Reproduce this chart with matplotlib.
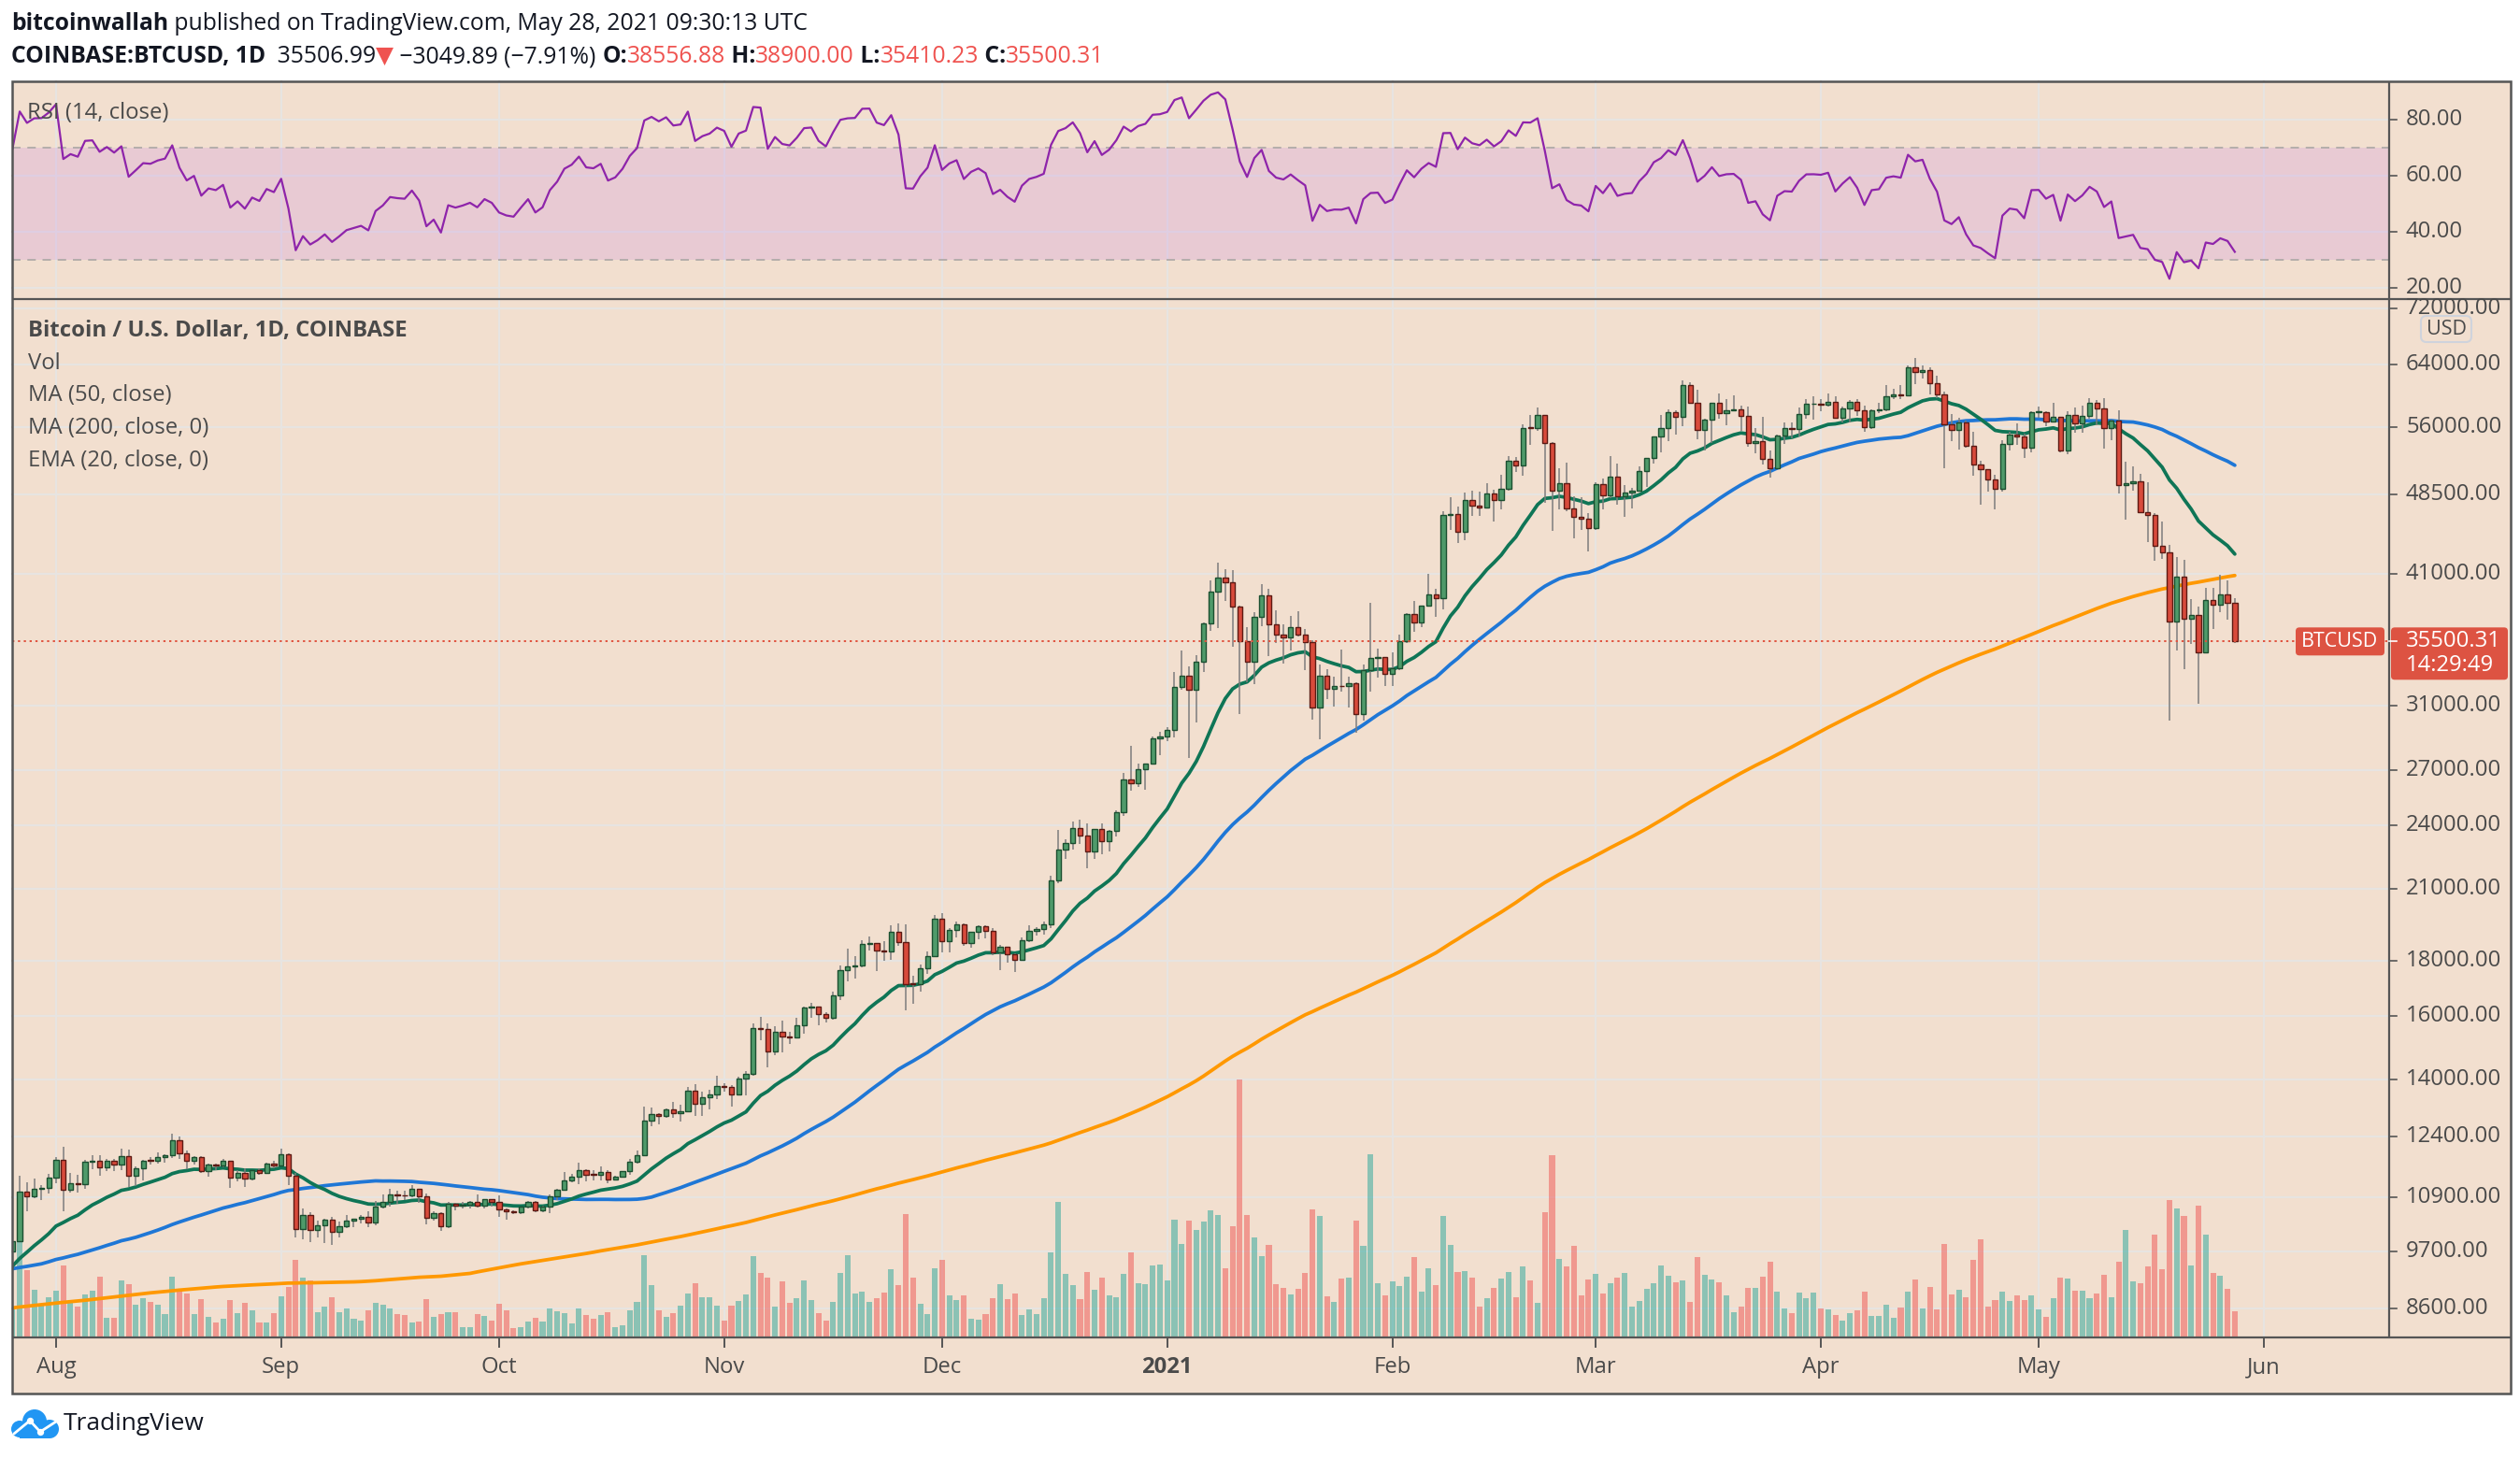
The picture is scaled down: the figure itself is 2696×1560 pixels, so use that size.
import numpy as np
import pandas as pd
import matplotlib
matplotlib.use("Agg")
import matplotlib.pyplot as plt
from matplotlib.patches import Rectangle, FancyBboxPatch, Circle

# ------------------------------------------------------------------ data
first_date = "2020-07-26"
first_open = 9705.0

# daily closes before the visible window (Jan 1 - Jul 25 2020), used only as history for MA/EMA/RSI
pre_close = [
    7200, 6970, 7340, 7350, 7360, 7760, 8160, 8040, 7820, 8190, 8020, 8180, 8110, 8810, 8810, 8710,
    8900, 8900, 8700, 8630, 8730, 8660, 8390, 8430, 8340, 8600, 8900, 9360, 9300, 9500, 9350,
    9380, 9340, 9290, 9180, 9620, 9760, 9810, 9900, 10160, 9860, 10270, 10350, 10240, 10370, 9900,
    9930, 9700, 10180, 9600, 9600, 9690, 9670, 9970, 9660, 9310, 8790, 8790, 8680, 8540,
    8530, 8920, 8760, 8760, 9070, 9150, 8900, 8040, 7940, 7890, 7940, 4860, 5620, 5170, 5360, 5020,
    5360, 5410, 6180, 6200, 6190, 5810, 6490, 6760, 6690, 6750, 6370, 6250, 5880, 6400, 6420,
    6650, 6810, 6740, 6870, 6780, 7340, 7200, 7370, 7300, 6870, 6890, 6910, 6860, 6880, 6640,
    7120, 7100, 7260, 7130, 6850, 6860, 7140, 7500, 7540, 7570, 7700, 7790, 7770, 8790, 8630,
    8830, 8980, 8910, 8890, 9030, 9150, 9990, 9820, 9540, 8730, 8570, 8820, 9320, 9790, 9310, 9380,
    9670, 9730, 9780, 9510, 9060, 9170, 9180, 8720, 8900, 8840, 9200, 9570, 9430, 9700, 9450,
    10200, 9520, 9670, 9790, 9620, 9670, 9750, 9780, 9780, 9890, 9270, 9470, 9470, 9340, 9430,
    9530, 9450, 9380, 9300, 9360, 9290, 9690, 9630, 9290, 9260, 9170, 9010, 9120, 9190, 9140,
    9230, 9090, 9060, 9130, 9070, 9340, 9250, 9430, 9230, 9280, 9230, 9300, 9240, 9250, 9190,
    9130, 9150, 9170, 9210, 9160, 9390, 9530, 9600, 9540, 9700,
]

close = [
    9930, 11030, 10910, 11100, 11110, 11350,
    11800, 11070, 11230, 11190, 11750, 11770, 11600, 11760, 11680, 11880, 11400, 11580, 11780, 11770, 11860, 11910,
    12300, 11970, 11760, 11870, 11520, 11680, 11650, 11760, 11350, 11470, 11330, 11540, 11480, 11710, 11660,
    11930, 11400, 10180, 10480, 10170, 10260, 10380, 10130, 10240, 10360, 10400, 10440, 10330, 10680, 10790,
    10960, 10940, 10930, 11080, 10920, 10420, 10530, 10240, 10740, 10690, 10730, 10780, 10700, 10840, 10780,
    10620, 10570, 10550, 10670, 10790, 10600, 10670, 10920, 11060, 11300, 11380, 11550, 11430, 11420, 11500,
    11320, 11370, 11510, 11750, 11920, 12820, 12990, 12940, 13120, 13030, 13070, 13650, 13280, 13460, 13560, 13800,
    13760, 13560, 14030, 14150, 15600, 15590, 14840, 15480, 15330, 15300, 15700, 16290, 16330, 16070, 15960,
    16730, 17660, 17790, 17820, 18680, 18700, 18420, 18370, 19160, 18740, 17150, 17140, 17720, 18180, 19700,
    18770, 19220, 19450, 18700, 19150, 19370, 19190, 18330, 18550, 18250, 18040, 18810, 19170, 19280, 19440,
    21380, 22800, 23140, 23870, 23480, 22740, 23830, 23240, 23730, 24710, 26490, 26280, 27040, 27370, 28890, 28990,
    29400, 32200, 33000, 32030, 34030, 36860, 39470, 40670, 40240, 38240, 35540, 34010, 37390, 39150, 36830,
    36030, 35820, 36630, 36020, 35470, 30830, 33010, 32080, 32280, 32260, 32500, 30420, 33410, 34270, 34320, 33110,
    33520, 35510, 37660, 36940, 38290, 39250, 38900, 46440, 46510, 44840, 47990, 47380, 47180, 48580,
    47930, 49150, 52120, 51600, 55920, 55900, 57490, 54090, 48890, 49700, 47060, 46280, 46110, 45140,
    49590, 48440, 50350, 48370, 48750, 48880, 50970, 52390, 54880, 55850, 57770, 57230, 61190, 58970, 55640,
    56930, 58920, 57650, 58030, 58100, 57350, 54100, 54340, 52300, 51300, 55040, 55840, 55780, 57610, 58780, 58800,
    58740, 59060, 57070, 58200, 59130, 58020, 56000, 57990, 58120, 59780, 59990, 59860, 63580, 62960, 63230,
    61450, 60060, 56270, 55700, 56500, 53800, 51700, 51190, 50110, 49080, 54030, 55050, 54880, 53580, 57800,
    57830, 56620, 57200, 53250, 57480, 56390, 57380, 58930, 58250, 55860, 56740, 49450, 49700, 49930,
    46760, 46450, 43540, 42910, 37000, 40780, 37280, 37530, 34700, 38780, 38350, 39270, 38556.88, 35500.31,
]

high = [
    10000, 11400, 11240, 11340, 11170, 11450,
    11860, 12120, 11480, 11420, 11800, 11900, 11920, 11810, 11810, 12070, 12050, 11630, 11800, 11870, 11980, 11930,
    12470, 12400, 12020, 11890, 11880, 11690, 11710, 11810, 11770, 11530, 11590, 11550, 11580, 11720, 11780,
    12090, 11950, 11470, 10630, 10560, 10360, 10410, 10440, 10350, 10480, 10400, 10480, 10580, 10800, 10950,
    11100, 11040, 11040, 11180, 11060, 10990, 10580, 10550, 10780, 10770, 10780, 10800, 10950, 10860, 10840,
    10940, 10640, 10600, 10680, 10800, 10800, 10690, 10960, 11100, 11490, 11440, 11730, 11560, 11550, 11630,
    11540, 11410, 11490, 11820, 12020, 13220, 13190, 13030, 13160, 13350, 13250, 13780, 13850, 13640, 13680, 14100,
    13880, 13830, 14070, 14250, 15770, 15980, 15770, 15670, 15850, 15480, 15950, 16350, 16480, 16330, 16150,
    16880, 17840, 18480, 18180, 18810, 18950, 18700, 18770, 19420, 19490, 19440, 17460, 17850, 18350, 19850,
    19920, 19300, 19560, 19500, 19160, 19420, 19420, 19290, 18630, 18560, 18280, 18940, 19410, 19350, 19560,
    21560, 23800, 23290, 24200, 24300, 24110, 23850, 24100, 23800, 24790, 26870, 28420, 27400, 27390, 28990, 29320,
    29600, 33300, 34790, 33650, 34500, 36950, 40380, 41950, 41400, 41350, 38300, 36630, 37800, 40100, 39700,
    37950, 36850, 37450, 37850, 36420, 35600, 33830, 33500, 32950, 34880, 32950, 32560, 33780, 38530, 34940, 34350,
    34720, 35990, 37700, 38700, 38330, 40950, 39700, 46800, 48200, 47310, 48680, 48960, 48840, 49700,
    49000, 50600, 52600, 52500, 56330, 57500, 58350, 57500, 54200, 51300, 51950, 48360, 48200, 46600,
    49790, 50200, 52650, 51780, 49450, 49200, 51460, 52420, 54900, 57400, 58100, 58000, 61800, 61600, 60600,
    56950, 58980, 60080, 59450, 59900, 58600, 58450, 55850, 57200, 53230, 55070, 56600, 56570, 58400, 59370, 59800,
    59480, 60100, 59780, 58500, 59280, 59480, 58650, 58150, 58900, 61200, 60700, 61200, 63800, 64900, 63800,
    63600, 62500, 60400, 57600, 57100, 56800, 55450, 52150, 51200, 50560, 54400, 55400, 56450, 55200, 57950,
    58500, 57950, 58980, 57200, 57950, 58380, 58650, 59500, 59300, 59600, 56900, 58000, 52000, 51500,
    50700, 49800, 46600, 45850, 43550, 42500, 42200, 38850, 38230, 39800, 39800, 40900, 40400, 38900,
]

low = [
    9650, 9900, 10570, 10870, 10830, 10980,
    11230, 10580, 11000, 11000, 11100, 11560, 11400, 11520, 11510, 11550, 11140, 11160, 11280, 11680, 11690, 11720,
    11830, 11820, 11570, 11670, 11480, 11380, 11530, 11600, 11120, 11260, 11140, 11280, 11430, 11450, 11590,
    11640, 11170, 10000, 9960, 9900, 10000, 9880, 9850, 10000, 10200, 10220, 10300, 10220, 10270, 10630,
    10680, 10750, 10820, 10900, 10770, 10290, 10360, 10140, 10200, 10600, 10640, 10640, 10650, 10640, 10680,
    10440, 10380, 10520, 10520, 10630, 10560, 10550, 10530, 10830, 11050, 11250, 11200, 11270, 11280, 11280,
    11220, 11290, 11360, 11420, 11690, 11890, 12680, 12720, 12900, 12890, 12800, 13050, 12940, 12960, 13120, 13420,
    13630, 13200, 13530, 13540, 14100, 15200, 14360, 14720, 14830, 15090, 15270, 15430, 15960, 15700, 15800,
    15880, 16560, 17220, 17350, 17750, 18420, 17620, 18000, 18030, 18600, 16200, 16440, 16880, 17520, 18180,
    18320, 18340, 18930, 18580, 18500, 18860, 18900, 18220, 17650, 17930, 17580, 17990, 18720, 19000, 19050,
    19300, 21250, 22350, 22800, 23080, 21900, 22360, 22600, 22700, 23440, 24520, 25850, 26080, 25900, 27330, 27850,
    28700, 28950, 32050, 27700, 29900, 33300, 36300, 36550, 38700, 35110, 30400, 32530, 32400, 36700, 34400,
    35370, 33850, 34800, 35900, 33400, 30070, 28850, 31400, 30900, 31920, 30840, 29240, 30000, 31920, 32850, 32300,
    32300, 33420, 35360, 36200, 36600, 38220, 37380, 38030, 45000, 43720, 44000, 46350, 46350, 47080,
    45800, 47000, 48950, 50900, 50500, 53860, 55490, 47640, 44900, 47000, 46800, 44190, 45000, 43020,
    45000, 47050, 48180, 47500, 46300, 47070, 48900, 49320, 51830, 53040, 54310, 55100, 56100, 58900, 54600,
    53300, 54150, 57050, 56250, 57900, 55500, 53700, 53000, 51700, 50300, 51250, 53970, 54700, 54900, 57020, 56870,
    57930, 58500, 56950, 56600, 56500, 57350, 55470, 55800, 57700, 57900, 59400, 59400, 59800, 61300, 62050,
    60000, 59600, 51300, 54300, 53400, 53600, 50500, 47500, 48800, 47000, 48850, 53300, 53900, 52400, 53050,
    57060, 56080, 56500, 53100, 52900, 55270, 55280, 56950, 56250, 53500, 54450, 48600, 46000, 48900,
    46600, 43850, 42100, 42350, 30000, 34800, 33500, 35300, 31100, 34600, 36450, 37800, 37200, 35410,
]

volume = [  # thousand BTC
    9.5, 33.9, 21.7, 15.3, 10.2, 12.9,
    15.0, 23.1, 11.4, 9.9, 13.8, 15.0, 19.5, 6.4, 6.4, 18.3, 17.1, 10.5, 12.6, 11.4, 10.5, 7.5,
    19.5, 15.3, 14.1, 7.5, 12.3, 6.6, 4.8, 6.0, 12.0, 7.8, 11.1, 8.7, 4.8, 4.8, 7.8,
    13.2, 16.2, 24.9, 19.2, 18.3, 8.1, 9.9, 12.9, 8.1, 9.3, 6.0, 5.4, 8.7, 11.1, 10.5,
    9.3, 7.5, 7.2, 4.8, 5.1, 12.3, 6.6, 7.5, 8.1, 8.1, 3.3, 3.3, 7.5, 6.9, 5.4,
    10.8, 8.7, 3.0, 3.3, 5.1, 6.3, 5.1, 9.3, 8.4, 7.8, 4.5, 9.3, 7.2, 6.0, 7.2,
    8.1, 3.3, 3.9, 8.7, 11.4, 26.4, 16.8, 8.7, 6.6, 7.8, 10.2, 14.1, 17.4, 12.9, 12.9, 10.2,
    5.4, 10.2, 11.7, 13.8, 26.1, 20.7, 19.2, 9.9, 18.0, 11.1, 12.6, 18.3, 12.0, 7.8, 5.4,
    11.4, 20.7, 26.4, 14.1, 14.7, 11.4, 12.6, 14.4, 21.9, 16.8, 39.6, 19.2, 10.8, 7.5, 22.2,
    24.9, 13.5, 12.0, 13.5, 6.0, 5.7, 7.5, 12.6, 17.1, 12.3, 14.1, 7.2, 9.0, 7.5, 12.6,
    27.3, 43.5, 20.4, 16.8, 12.3, 21.0, 15.3, 19.2, 13.5, 12.9, 20.4, 27.3, 17.4, 17.1, 23.1, 23.4,
    18.3, 37.8, 30.0, 37.5, 34.5, 37.2, 40.8, 39.3, 22.2, 35.7, 82.8, 39.3, 32.1, 26.1, 29.7,
    17.1, 15.9, 13.8, 15.6, 20.7, 41.1, 39.0, 13.2, 11.4, 18.9, 19.2, 37.5, 29.4, 58.8, 17.4, 13.5,
    18.0, 16.5, 19.5, 25.8, 14.7, 22.2, 16.8, 39.0, 29.7, 21.0, 21.3, 19.2, 9.9, 12.6,
    15.9, 18.9, 21.0, 12.9, 22.8, 18.3, 11.1, 40.2, 58.5, 25.2, 22.8, 29.4, 13.5, 18.6,
    20.4, 14.1, 17.4, 19.2, 20.7, 9.9, 11.7, 15.6, 17.4, 23.1, 19.8, 17.7, 18.3, 11.4, 25.8,
    20.1, 18.6, 17.7, 13.5, 8.1, 9.9, 15.9, 15.9, 19.5, 24.3, 14.7, 9.3, 7.8, 14.4, 12.6, 14.4,
    9.3, 9.0, 7.2, 5.4, 7.8, 8.7, 14.7, 6.9, 6.9, 10.5, 6.3, 9.6, 14.7, 18.6, 9.3,
    16.2, 9.0, 30.0, 13.8, 15.3, 12.9, 24.9, 31.5, 9.9, 12.0, 14.7, 11.7, 13.5, 12.0, 13.5,
    9.0, 6.6, 12.6, 19.2, 18.9, 15.0, 15.0, 12.6, 14.1, 20.1, 12.9, 24.3, 34.5, 18.0,
    17.4, 22.8, 33.0, 21.9, 44.1, 41.4, 39.0, 23.1, 42.3, 33.0, 20.7, 19.8, 15.6, 8.4,
]

price_ticks = [72000, 64000, 56000, 48500, 41000, 31000, 27000, 24000, 21000,
               18000, 16000, 14000, 12400, 10900, 9700, 8600]
rsi_ticks = [80, 60, 40, 20]
legend_lines = ["Bitcoin / U.S. Dollar, 1D, COINBASE", "Vol", "MA (50, close)",
                "MA (200, close, 0)", "EMA (20, close, 0)"]
last_price = 35500.31
countdown = "14:29:49"

# ------------------------------------------------------------------ styling / layout
W, H, DPI = 2696, 1560, 100
L, R, TOP, SEP, BOT, FR, FB = 13, 2556, 87, 320, 1431, 2686, 1491
XMIN, XMAX = -0.04, 327.25
PTOP, PBOT = 73500.0, 8086.0
RTOP, RBOT = 93.67, 16.0
VTOP = 333.0

BG = "#f2dfcf"
GRID = "#e7e4e1"
FRAME = "#555555"
TXT = "#4a4a4a"
G_BODY, G_EDGE = "#4f9a6a", "#1b4f30"
R_BODY, R_EDGE = "#d84a3b", "#5c1a13"
WICK = "#7d7d7d"
FS = 17.2

plt.rcParams["font.family"] = ["Open Sans", "DejaVu Sans"]

n = min(len(close), len(high), len(low), len(volume))
c = np.array(close[:n], float)
o = np.concatenate([[first_open], c[:-1]])
hi = np.maximum(np.array(high[:n], float), np.maximum(o, c))
lo = np.minimum(np.array(low[:n], float), np.minimum(o, c))
vol = np.array(volume[:n], float)
x = np.arange(n)
up = c >= o

allc = pd.Series(list(map(float, pre_close)) + list(c))
npre = len(pre_close)
ema20 = allc.ewm(span=20, adjust=False).mean().values
ma50 = allc.rolling(50).mean().values
ma200 = allc.rolling(200).mean().values
d = allc.diff()
gain = d.clip(lower=0).ewm(alpha=1 / 14, adjust=False).mean()
loss = (-d.clip(upper=0)).ewm(alpha=1 / 14, adjust=False).mean()
rsi = (100 - 100 / (1 + gain / loss)).values
xi = np.arange(len(allc)) - npre
sel = xi >= -3


def px_price(p):
    return SEP + (np.log(PTOP) - np.log(p)) / (np.log(PTOP) - np.log(PBOT)) * (BOT - SEP)


def px_rsi(r):
    return TOP + (RTOP - r) / (RTOP - RBOT) * (SEP - TOP)


def px_x(i):
    return L + (i - XMIN) / (XMAX - XMIN) * (R - L)


def rect_axes(x0, y0, x1, y1):
    return [x0 / W, 1 - y1 / H, (x1 - x0) / W, (y1 - y0) / H]


fig = plt.figure(figsize=(W / DPI, H / DPI), dpi=DPI)
fig.patch.set_facecolor("white")

bg = fig.add_axes([0, 0, 1, 1])
bg.set_xlim(0, W); bg.set_ylim(H, 0); bg.axis("off"); bg.set_zorder(0)
bg.add_patch(Rectangle((L, TOP), FR - L, FB - TOP, facecolor=BG, edgecolor="none"))

# grid
dates = pd.date_range(first_date, periods=int(XMAX) + 1)
month_idx = [i for i, dt in enumerate(dates) if dt.day == 1]
for i in month_idx:
    bg.plot([px_x(i)] * 2, [TOP, BOT], color=GRID, lw=1.6, zorder=1)
for p in price_ticks:
    bg.plot([L, R], [px_price(p)] * 2, color=GRID, lw=1.6, zorder=1)
for r in rsi_ticks:
    bg.plot([L, R], [px_rsi(r)] * 2, color=GRID, lw=1.6, zorder=1)

# volume
axv = fig.add_axes(rect_axes(L, SEP, R, BOT))
axv.set_zorder(1)
vcol = [(38 / 255, 166 / 255, 154 / 255, 0.5) if u else (239 / 255, 83 / 255, 80 / 255, 0.5) for u in up]
axv.bar(x, vol, width=0.78, color=vcol, linewidth=0)
axv.set_xlim(XMIN, XMAX); axv.set_ylim(0, VTOP); axv.axis("off")

# price pane
ax = fig.add_axes(rect_axes(L, SEP, R, BOT))
ax.set_zorder(2)
ax.set_yscale("log")
ax.set_xlim(XMIN, XMAX); ax.set_ylim(PBOT, PTOP); ax.axis("off")
ax.plot(xi[sel], ma200[sel], color="#ff9800", lw=2.7, zorder=3, solid_capstyle="round")
ax.plot(xi[sel], ma50[sel], color="#1f77d6", lw=2.7, zorder=3, solid_capstyle="round")
ax.plot(xi[sel], ema20[sel], color="#0f7556", lw=2.7, zorder=3, solid_capstyle="round")
ax.vlines(x, lo, hi, color=WICK, lw=1.1, zorder=4)
bot_b = np.minimum(o, c)
top_b = np.maximum(np.maximum(o, c), bot_b * 1.0015)
ax.bar(x, top_b - bot_b, bottom=bot_b, width=0.68,
       color=[G_BODY if u else R_BODY for u in up],
       edgecolor=[G_EDGE if u else R_EDGE for u in up], linewidth=1.0, zorder=5)
ax.axhline(last_price, color="#e0533f", lw=1.4, ls=(0, (1.2, 2.0)), zorder=6)

# RSI pane
axr = fig.add_axes(rect_axes(L, TOP, R, SEP))
axr.set_zorder(2)
axr.set_xlim(XMIN, XMAX); axr.set_ylim(RBOT, RTOP); axr.axis("off")
axr.axhspan(30, 70, color="#c076e8", alpha=0.2, lw=0, zorder=1)
for lvl in (70, 30):
    axr.axhline(lvl, color="#b0aaa8", lw=1.3, ls=(0, (5, 4)), zorder=2)
axr.plot(xi[sel], rsi[sel], color="#8e24aa", lw=1.6, zorder=3)

# overlay (pixel coordinates)
ov = fig.add_axes([0, 0, 1, 1])
ov.set_xlim(0, W); ov.set_ylim(H, 0); ov.axis("off"); ov.set_zorder(5)

for (xa, ya, xb, yb) in [(L, SEP, FR, SEP), (L, BOT, FR, BOT), (R, TOP, R, BOT)]:
    ov.plot([xa, xb], [ya, yb], color=FRAME, lw=1.6, solid_capstyle="butt")
ov.add_patch(Rectangle((L, TOP), FR - L, FB - TOP, facecolor="none", edgecolor=FRAME, lw=1.8))

# right axis labels
for p in price_ticks:
    y = px_price(p)
    ov.plot([R, R + 8], [y, y], color=FRAME, lw=1.2)
    ov.text(2574, y, f"{p:.2f}", fontsize=FS, color=TXT, va="center", ha="left")
for r in rsi_ticks:
    y = px_rsi(r)
    ov.plot([R, R + 8], [y, y], color=FRAME, lw=1.2)
    ov.text(2574, y, f"{r:.2f}", fontsize=FS, color=TXT, va="center", ha="left")

ov.add_patch(FancyBboxPatch((2590, 338), 54, 28, boxstyle="round,pad=0,rounding_size=6",
                            facecolor=BG, edgecolor="#cfd3dc", lw=1.5))
ov.text(2617, 352, "USD", fontsize=15.5, color=TXT, va="center", ha="center")

yl = px_price(last_price)
ov.add_patch(FancyBboxPatch((2456, yl - 15), 95, 30, boxstyle="round,pad=0,rounding_size=4",
                            facecolor="#dd5342", edgecolor="none"))
ov.text(2503, yl, "BTCUSD", fontsize=15.5, color="white", va="center", ha="center")
ov.add_patch(FancyBboxPatch((R + 2, yl - 15), FR - R - 5, 56, boxstyle="round,pad=0,rounding_size=4",
                            facecolor="#dd5342", edgecolor="none"))
ov.plot([R, R + 8], [yl, yl], color="white", lw=1.2)
ov.text(2574, yl, f"{last_price:.2f}", fontsize=FS, color="white", va="center", ha="left")
ov.text(2574, yl + 26, countdown, fontsize=FS, color="white", va="center", ha="left")

# time axis
mnames = {1: "2021", 2: "Feb", 3: "Mar", 4: "Apr", 5: "May", 6: "Jun", 7: "Jul", 8: "Aug",
          9: "Sep", 10: "Oct", 11: "Nov", 12: "Dec"}
for i in month_idx:
    xp = px_x(i)
    ov.plot([xp, xp], [BOT, BOT + 10], color=FRAME, lw=1.4)
    m = dates[i].month
    ov.text(xp, 1463, mnames[m], fontsize=FS, color=TXT, ha="center", va="center",
            fontweight="bold" if m == 1 else "normal")

# legend / labels
for k, s in enumerate(legend_lines):
    ov.text(30, 354 + 34.7 * k, s, fontsize=FS, color=TXT, va="center", ha="left",
            fontweight="bold" if k == 0 else "normal")
ov.text(29, 121, "RSI (14, close)", fontsize=FS, color=TXT, va="center", ha="left")


# header
def chain(parts, x0, y0, size):
    t = None
    for s, col, wt in parts:
        if t is None:
            t = ov.text(x0, y0, s, color=col, fontsize=size, fontweight=wt, va="baseline", ha="left")
        else:
            t = ov.annotate(s, xy=(1, 0), xycoords=t, va="bottom", ha="left", color=col,
                            fontsize=size, fontweight=wt)


DK, RED = "#131722", "#ef5350"
chain([("bitcoinwallah", DK, "bold"),
       (" published on TradingView.com, May 28, 2021 09:30:13 UTC", DK, "normal")], 12, 32, 17.8)
chain([("COINBASE:BTCUSD, 1D", DK, "bold"), ("  35506.99", DK, "normal"), ("▼", RED, "normal"),
       (" \u22123049.89 (\u22127.91%) ", DK, "normal"), ("O:", DK, "bold"), ("38556.88", RED, "normal"),
       (" H:", DK, "bold"), ("38900.00", RED, "normal"), (" L:", DK, "bold"), ("35410.23", RED, "normal"),
       (" C:", DK, "bold"), ("35500.31", RED, "normal")], 12, 67, 17.8)

# footer logo
BLUE = "#2196f3"
for (cx, cy, rr) in [(21, 1529, 9), (37, 1521, 13), (53, 1529, 10)]:
    ov.add_patch(Circle((cx, cy), rr, color=BLUE, lw=0))
ov.add_patch(Rectangle((21, 1526), 32, 13, color=BLUE, lw=0))
lx, ly = [15, 32, 43, 60], [1534, 1520, 1532, 1521]
ov.plot(lx, ly, color="white", lw=2.0, solid_capstyle="round")
ov.scatter(lx[1:3], ly[1:3], s=28, color="white", zorder=6, lw=0)
ov.text(68, 1524, "TradingView", fontsize=19, color=DK, va="center", ha="left")

fig.savefig("out.png", dpi=DPI, facecolor="white")
